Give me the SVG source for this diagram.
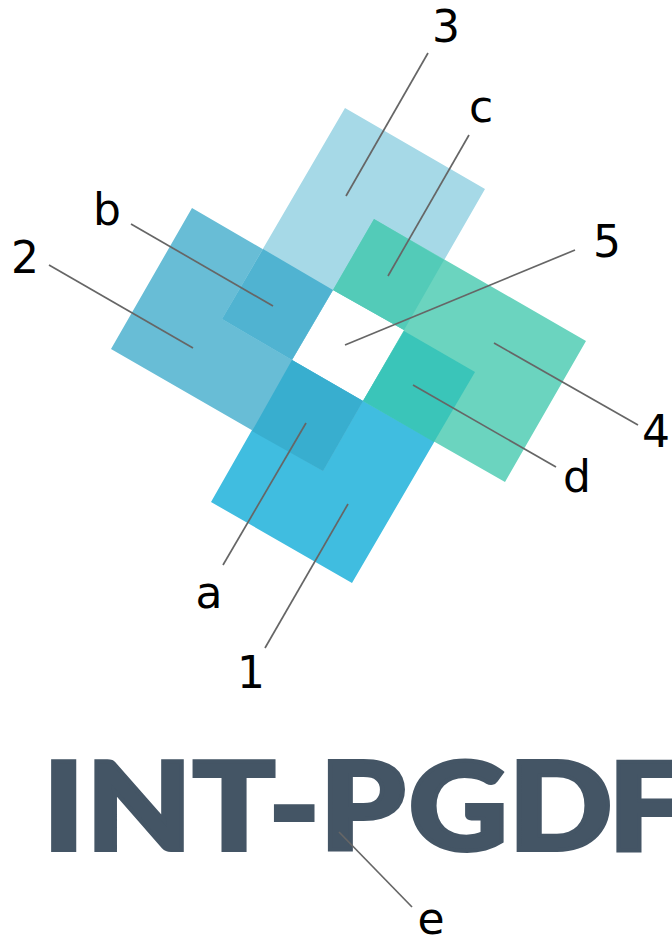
<svg xmlns="http://www.w3.org/2000/svg" width="672" height="935" viewBox="0 0 672 935">
<style>
.lbl{font-family:"DejaVu Sans",sans-serif;font-size:44px;fill:#000;text-anchor:middle}
.ldr{stroke:#666;stroke-width:1.7;fill:none}
.logo{font-family:Lato,"Liberation Sans",sans-serif;font-weight:900;font-size:122px;fill:#445565;stroke:#445565;stroke-width:4;stroke-linejoin:miter}
</style>
<rect width="672" height="935" fill="#fff"/>
<g id="shape-1"><polygon fill="#40BDE0" points="292,360 363,401 404,331 475,372 352,583 211,502"/></g>
<g id="shape-2"><polygon fill="#68BDD6" points="192,208 333,290 292,360 363,401 323,471 111,349"/></g>
<g id="shape-3"><polygon fill="#A6D9E7" points="345,108 485,189 404,330 333,290 292,360 222,319"/></g>
<g id="shape-4"><polygon fill="#6BD4BF" points="374,219 586,341 505,482 363,401 404,330 333,290"/></g>
<g id="overlaps">
<polygon fill="#38AECF" points="292,360 363,401 323,471 252,431"/>
<polygon fill="#50B3D1" points="263,249 333,290 292,360 222,319"/>
<polygon fill="#53CBB8" points="374,219 444,260 404,330 333,290"/>
<polygon fill="#3AC5B9" points="404,331 475,372 434,442 363,401"/>
</g>
<g id="logo"><text class="logo" transform="scale(1.12 1)" y="850" x="38.5 77 172 240 285.5 365 454 543">INT-PGDF</text></g>
<g id="connectors">
<line class="ldr" x1="428" y1="53" x2="346" y2="196"/>
<line class="ldr" x1="469" y1="135" x2="388" y2="276"/>
<line class="ldr" x1="131" y1="224" x2="273" y2="306"/>
<line class="ldr" x1="49" y1="265" x2="193" y2="348"/>
<line class="ldr" x1="575" y1="250" x2="345" y2="345"/>
<line class="ldr" x1="638" y1="425" x2="494" y2="343"/>
<line class="ldr" x1="556" y1="467" x2="413" y2="385"/>
<line class="ldr" x1="223" y1="565" x2="306" y2="423"/>
<line class="ldr" x1="265" y1="648" x2="348" y2="504"/>
<line class="ldr" x1="412" y1="907" x2="339" y2="832"/>
</g>
<g id="labels">
<text class="lbl" x="446" y="42">3</text>
<text class="lbl" x="481" y="122">c</text>
<text class="lbl" x="107" y="225">b</text>
<text class="lbl" x="25" y="273">2</text>
<text class="lbl" x="607" y="257">5</text>
<text class="lbl" x="656" y="447">4</text>
<text class="lbl" x="577" y="492">d</text>
<text class="lbl" x="209" y="608">a</text>
<text class="lbl" x="251" y="688">1</text>
<text class="lbl" x="431" y="934">e</text>
</g>
</svg>
